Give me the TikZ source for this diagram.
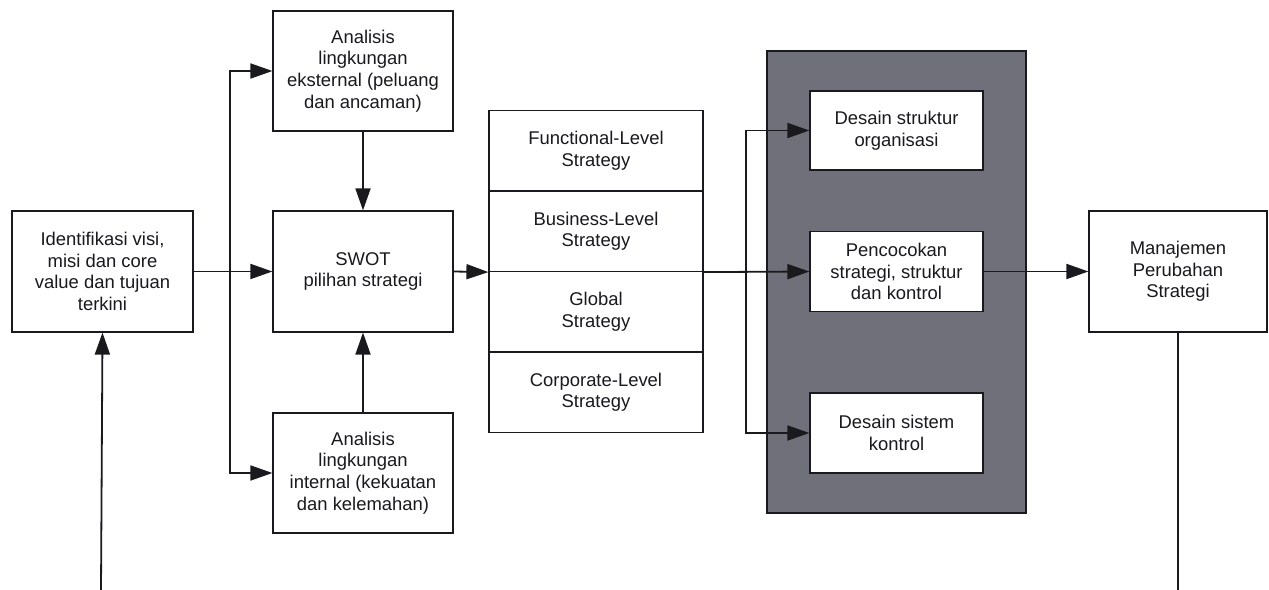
\documentclass[tikz,border=0pt]{standalone}
\usepackage{fontspec}
\setmainfont{Liberation Sans}
\usetikzlibrary{arrows.meta}
\definecolor{ink}{RGB}{25,25,30}
\definecolor{panelgray}{RGB}{112,112,122}
\begin{document}
\begin{tikzpicture}[x=1bp,y=-1bp,
  every node/.style={font=\fontsize{18.5}{21.7}\selectfont, text=ink},
  box/.style={draw=ink, line width=1.2bp, align=center, inner sep=0pt},
  innerbox/.style={box, fill=white},
  arr/.style={draw=ink, line width=1.8bp, -{Triangle[length=22bp,width=15bp]}},
  link/.style={draw=ink, line width=1.8bp}]
\useasboundingbox (0,0) rectangle (1269,590);
\fill[white] (0,0) rectangle (1269,590);

% left column
\node[box, minimum width=181bp, minimum height=121bp] (ident) at (102.5,271.5)
  {Identifikasi visi,\\misi dan core\\value dan tujuan\\terkini};

% environment analysis and SWOT
\node[box, minimum width=180bp, minimum height=120bp] (ext) at (363,71)
  {Analisis\\lingkungan\\eksternal (peluang\\dan ancaman)};
\node[box, minimum width=180bp, minimum height=121bp] (swot) at (363,271.5)
  {SWOT\\pilihan strategi};
\node[box, minimum width=180bp, minimum height=120bp] (int) at (363,473)
  {Analisis\\lingkungan\\internal (kekuatan\\dan kelemahan)};

% strategy levels stack
\node[box, minimum width=214bp, minimum height=80.5bp] (fl) at (596,151)
  {Functional-Level\\Strategy};
\node[box, minimum width=214bp, minimum height=80.5bp] (bl) at (596,231.25)
  {Business-Level\\Strategy};
\node[box, minimum width=214bp, minimum height=80.5bp] (gl) at (596,311.75)
  {Global\\Strategy};
\node[box, minimum width=214bp, minimum height=80.5bp] (cl) at (596,392.25)
  {Corporate-Level\\Strategy};

% implementation panel
\node[draw=ink, line width=1.2bp, fill=panelgray, minimum width=259bp,
  minimum height=462bp, inner sep=0pt] (panel) at (896.5,282) {};
\node[innerbox, minimum width=173bp, minimum height=79bp] (struk) at (896.5,130.5)
  {Desain struktur\\organisasi};
\node[innerbox, minimum width=173bp, minimum height=80bp] (pen) at (896.5,271.5)
  {Pencocokan\\strategi, struktur\\dan kontrol};
\node[innerbox, minimum width=173bp, minimum height=80bp] (sis) at (896.5,433)
  {Desain sistem\\kontrol};

% change management
\node[box, minimum width=178bp, minimum height=121bp] (man) at (1178,271.5)
  {Manajemen\\Perubahan\\Strategi};

% connectors
\coordinate (split1) at (230,271.5);
\coordinate (split2) at (746,271.5);
\coordinate (fbR) at (1178,590);
\coordinate (fbL) at (101,590);

\draw[arr] (ident.east) -- (swot.west);
\draw[arr] (split1) |- (ext.west);
\draw[arr] (split1) |- (int.west);
\draw[arr] (ext.south) -- (swot.north);
\draw[arr] (int.north) -- (swot.south);
\draw[arr] (swot.east) -- (bl.south west);
\draw[arr] (bl.south east) -- (pen.west);
\draw[arr] (split2) |- (struk.west);
\draw[arr] (split2) |- (sis.west);
\draw[arr] (pen.east) -- (man.west);
\draw[link] (man.south) -- (fbR);
\draw[arr] (fbL) -- (ident.south);
\end{tikzpicture}
\end{document}
